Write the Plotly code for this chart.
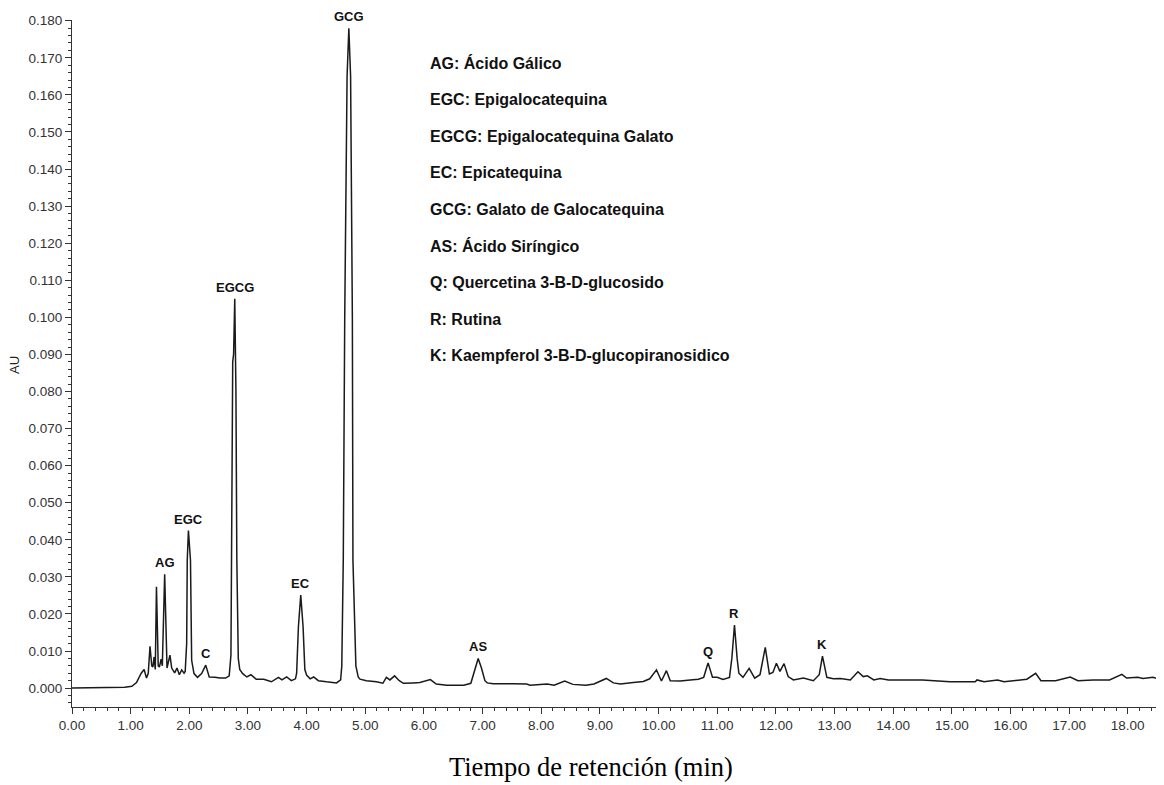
import plotly.graph_objects as go

# Chromatogram: retention time (min) and absorbance (AU)
time_min = [
    0.00, 0.70, 0.90, 1.02, 1.10, 1.18, 1.23, 1.27, 1.30, 1.33, 1.36, 1.38, 1.40, 1.42,
    1.44, 1.47, 1.49, 1.52, 1.54, 1.58, 1.62, 1.67, 1.70, 1.75, 1.79, 1.83, 1.87, 1.91,
    1.93, 1.955, 1.965, 1.985, 2.02, 2.04, 2.08, 2.14, 2.21, 2.28, 2.34, 2.44, 2.52, 2.62,
    2.68, 2.71, 2.725, 2.74, 2.755, 2.775, 2.795, 2.81, 2.835, 2.86, 2.91, 2.98, 3.05,
    3.14, 3.27, 3.40, 3.52, 3.58, 3.66, 3.74, 3.81, 3.83, 3.86, 3.90, 3.94, 3.97, 4.00,
    4.06, 4.12, 4.20, 4.34, 4.51, 4.58, 4.60, 4.625, 4.65, 4.69, 4.72, 4.75, 4.78, 4.79,
    4.84, 4.88, 4.91, 5.02, 5.19, 5.30, 5.36, 5.42, 5.50, 5.58, 5.65, 5.82, 5.93, 6.11,
    6.21, 6.39, 6.68, 6.80, 6.87, 6.925, 6.98, 7.04, 7.08, 7.18, 7.52, 7.75, 7.81, 8.10,
    8.22, 8.40, 8.54, 8.76, 8.90, 9.11, 9.23, 9.35, 9.57, 9.74, 9.85, 9.965, 10.05,
    10.135, 10.20, 10.37, 10.54, 10.68, 10.77, 10.845, 10.92, 11.00, 11.10, 11.21, 11.25,
    11.295, 11.34, 11.37, 11.44, 11.545, 11.64, 11.73, 11.82, 11.89, 11.95, 12.01, 12.07,
    12.14, 12.21, 12.30, 12.47, 12.64, 12.74, 12.795, 12.87, 12.98, 13.10, 13.27, 13.40,
    13.49, 13.56, 13.67, 13.78, 13.92, 14.50, 14.97, 15.40, 15.43, 15.55, 15.78, 15.89,
    16.17, 16.28, 16.43, 16.52, 16.77, 16.89, 17.02, 17.15, 17.41, 17.69, 17.80, 17.90,
    17.98, 18.17, 18.26, 18.43, 18.54,
]
absorbance_au = [
    0.0000, 0.0000, 0.0002, 0.0005, 0.0015, 0.0040, 0.0050, 0.0027, 0.0040, 0.0113, 0.0060, 0.0057, 0.0084, 0.0050,
    0.0273, 0.0060, 0.0057, 0.0078, 0.0060, 0.0307, 0.0054, 0.0089, 0.0054, 0.0041, 0.0054, 0.0036, 0.0049, 0.0040,
    0.0045, 0.0120, 0.0345, 0.0425, 0.0345, 0.0075, 0.0039, 0.0029, 0.0039, 0.0062, 0.0030, 0.0029, 0.0027, 0.0027,
    0.0033, 0.0089, 0.0400, 0.0880, 0.0900, 0.1050, 0.0800, 0.0350, 0.0080, 0.0050, 0.0039, 0.0030, 0.0036,
    0.0024, 0.0024, 0.0017, 0.0029, 0.0022, 0.0030, 0.0020, 0.0025, 0.0040, 0.0165, 0.0251, 0.0165, 0.0050, 0.0035,
    0.0025, 0.0030, 0.0020, 0.0017, 0.0014, 0.0022, 0.0060, 0.0345, 0.1000, 0.1650, 0.1780, 0.1650, 0.1000, 0.0345,
    0.0060, 0.0030, 0.0024, 0.0020, 0.0017, 0.0013, 0.0029, 0.0022, 0.0033, 0.0020, 0.0013, 0.0014, 0.0015, 0.0023,
    0.0011, 0.0008, 0.0008, 0.0013, 0.0050, 0.0080, 0.0055, 0.0020, 0.0014, 0.0012, 0.0012, 0.0011, 0.0008, 0.0011,
    0.0008, 0.0019, 0.0010, 0.0008, 0.0011, 0.0026, 0.0014, 0.0011, 0.0015, 0.0018, 0.0025, 0.0049, 0.0019,
    0.0047, 0.0020, 0.0019, 0.0022, 0.0024, 0.0029, 0.0068, 0.0029, 0.0029, 0.0023, 0.0029, 0.0080,
    0.0170, 0.0080, 0.0040, 0.0029, 0.0053, 0.0027, 0.0036, 0.0110, 0.0038, 0.0042, 0.0067, 0.0045,
    0.0066, 0.0031, 0.0022, 0.0027, 0.0020, 0.0036, 0.0086, 0.0029, 0.0025, 0.0026, 0.0022, 0.0044,
    0.0031, 0.0033, 0.0022, 0.0026, 0.0022, 0.0022, 0.0017, 0.0017, 0.0022, 0.0017, 0.0022, 0.0017,
    0.0022, 0.0024, 0.0040, 0.0020, 0.0020, 0.0024, 0.0030, 0.0020, 0.0022, 0.0022, 0.0029, 0.0037,
    0.0027, 0.0029, 0.0026, 0.0029, 0.0024,
]

# Peak labels
peak_names = ["AG", "EGC", "C", "EGCG", "EC", "GCG", "AS", "Q", "R", "K"]
peak_times = [1.58, 1.985, 2.28, 2.775, 3.90, 4.72, 6.925, 10.845, 11.295, 12.795]
peak_heights = [0.0307, 0.0425, 0.0062, 0.1050, 0.0251, 0.1780, 0.0080, 0.0068, 0.0170, 0.0086]

# Compound key
legend_lines = [
    "AG: Ácido Gálico",
    "EGC: Epigalocatequina",
    "EGCG: Epigalocatequina Galato",
    "EC: Epicatequina",
    "GCG: Galato de Galocatequina",
    "AS: Ácido Siríngico",
    "Q: Quercetina 3-B-D-glucosido",
    "R: Rutina",
    "K: Kaempferol 3-B-D-glucopiranosidico",
]

x_ticks = [float(i) for i in range(0, 19)]
y_ticks = [i / 100 for i in range(0, 19)]

SANS = "Liberation Sans, Arial, sans-serif"

fig = go.Figure()
fig.add_trace(go.Scatter(
    x=time_min, y=absorbance_au, mode="lines",
    line=dict(color="#1a1a1a", width=1.5),
    showlegend=False, hoverinfo="x+y",
))

annotations = []
for name, t, h in zip(peak_names, peak_times, peak_heights):
    annotations.append(dict(
        x=t, y=h, xref="x", yref="y", text="<b>%s</b>" % name, showarrow=False,
        xanchor="center", yanchor="bottom", yshift=3, borderpad=0,
        font=dict(family=SANS, size=13, color="#111"),
    ))

for i, line in enumerate(legend_lines):
    y_px = 63 + i * 36.6
    annotations.append(dict(
        x=(428 - 72) / 1088, y=(707 - y_px) / 687, xref="paper", yref="paper",
        text="<b>%s</b>" % line, showarrow=False, xanchor="left", yanchor="middle",
        font=dict(family=SANS, size=16, color="#111"),
    ))

annotations.append(dict(
    x=(15 - 72) / 1088, y=(707 - 365) / 687, xref="paper", yref="paper",
    text="AU", showarrow=False, textangle=-90, xanchor="center", yanchor="middle",
    font=dict(family=SANS, size=13, color="#222"),
))
annotations.append(dict(
    x=(591 - 72) / 1088, y=(707 - 767) / 687, xref="paper", yref="paper",
    text="Tiempo de retención (min)", showarrow=False, xanchor="center", yanchor="middle",
    font=dict(family="Liberation Serif, Times New Roman, serif", size=26.5, color="#000"),
))

axis_font = dict(family=SANS, size=13.5, color="#333")

# page body has an 8px margin, so the figure is drawn 8px right and down
fig.update_layout(
    width=1156, height=777,
    margin=dict(l=64, r=4, t=12, b=78, autoexpand=False),
    paper_bgcolor="white", plot_bgcolor="white",
    annotations=annotations,
    xaxis=dict(
        range=[0, 18.55], tickvals=x_ticks, tickformat=".2f", automargin=False,
        ticks="outside", ticklen=6, tickcolor="#333", tickwidth=1,
        showline=True, linecolor="#333", linewidth=1, showgrid=False, zeroline=False,
        tickfont=axis_font,
        minor=dict(dtick=0.2, ticks="outside", ticklen=3, tickcolor="#333", showgrid=False),
    ),
    yaxis=dict(
        range=[-0.0051, 0.1802], tickvals=y_ticks, tickformat=".3f", automargin=False,
        ticks="outside", ticklen=6, tickcolor="#333", tickwidth=1,
        showline=True, linecolor="#333", linewidth=1, showgrid=False, zeroline=False,
        tickfont=axis_font,
        minor=dict(dtick=0.002, ticks="outside", ticklen=3, tickcolor="#333", showgrid=False),
    ),
)

fig.write_html("out.html")
